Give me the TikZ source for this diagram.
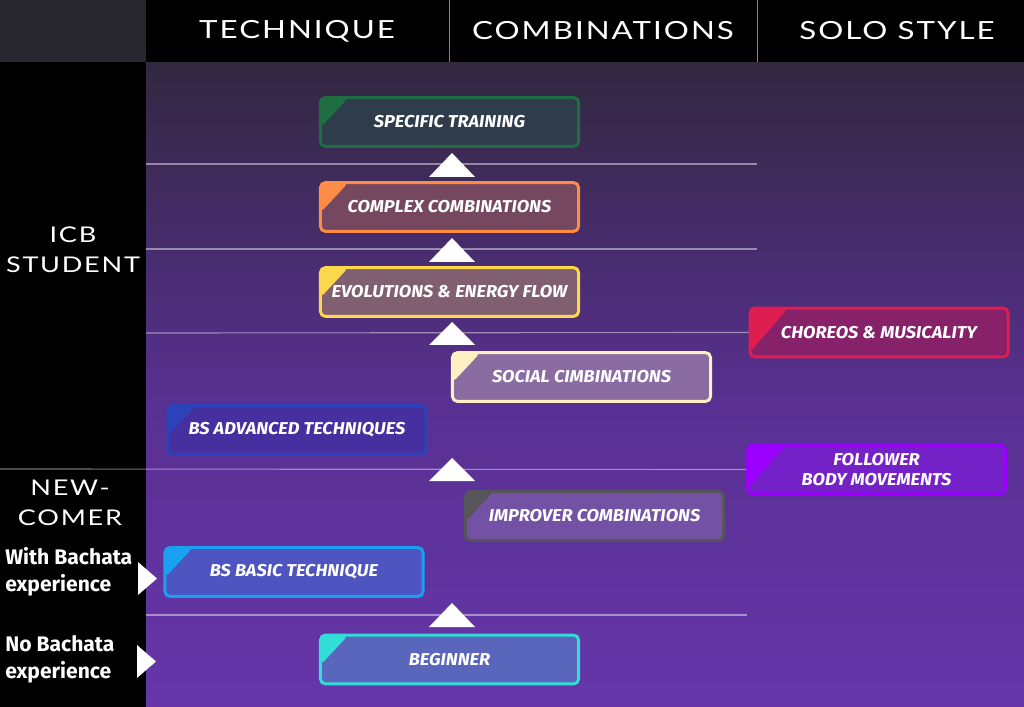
\documentclass[tikz,border=0pt]{standalone}
\usepackage{fontspec}
\setmainfont{Fira Sans}
\newfontfamily\headfont[FakeStretch=1.25,LetterSpace=8]{Lato}
\newfontfamily\stagefont[FakeStretch=1.06]{Fira Sans}

\definecolor{bgtop}{RGB}{50,40,64}
\definecolor{bgmid}{RGB}{88,48,145}
\definecolor{bgbot}{RGB}{102,54,170}
\definecolor{corner}{RGB}{40,38,46}
\definecolor{specB}{RGB}{30,110,65}
\definecolor{specF}{RGB}{46,60,75}
\definecolor{complexB}{RGB}{255,140,70}
\definecolor{complexF}{RGB}{118,72,96}
\definecolor{evolB}{RGB}{250,215,75}
\definecolor{evolF}{RGB}{128,96,112}
\definecolor{socialB}{RGB}{255,240,195}
\definecolor{socialF}{RGB}{138,108,163}
\definecolor{advB}{RGB}{45,65,185}
\definecolor{advF}{RGB}{70,48,160}
\definecolor{improverB}{RGB}{85,85,90}
\definecolor{improverF}{RGB}{115,82,165}
\definecolor{basicB}{RGB}{25,160,240}
\definecolor{basicF}{RGB}{78,85,192}
\definecolor{beginnerB}{RGB}{50,220,215}
\definecolor{beginnerF}{RGB}{90,102,188}
\definecolor{choreosB}{RGB}{222,30,80}
\definecolor{choreosF}{RGB}{135,33,106}
\definecolor{followerB}{RGB}{155,0,255}
\definecolor{followerF}{RGB}{117,33,200}

\tikzset{
  stage/.style n args={4}{draw=#1,fill=#2,line width=2.1pt,rounded corners=3.5pt,
    minimum width=6.45cm,minimum height=1.22cm,inner sep=0pt,text=white,align=center,
    font=\stagefont\fontsize{12.2}{14.4}\selectfont\bfseries\itshape,
    path picture={\fill[#1](path picture bounding box.north west)--++(#3,0)--++(-#3,#4)--cycle;}},
  sepline/.style={white,opacity=0.45,line width=0.8pt},
  headtext/.style={text=white,font=\headfont\fontsize{17.8}{22}\selectfont},
  sidetext/.style={text=white,align=center,font=\headfont\fontsize{15.4}{21.5}\selectfont},
  leveltext/.style={text=white,align=left,anchor=west,inner sep=0pt,font=\fontsize{15}{19.2}\selectfont\bfseries},
}

\begin{document}
\begin{tikzpicture}[x=0.025cm,y=-0.025cm]
        \useasboundingbox(0,0)rectangle(1024,707);
        % background
        \fill[black](0,0)rectangle(1024,707);
        \fill[corner](0,0)rectangle(146,62);
        \shade[top color=bgtop,bottom color=bgmid](146,62)rectangle(1024,400);
        \shade[top color=bgmid,bottom color=bgbot](146,399)rectangle(1024,707);
        \fill[black](146,0)rectangle(1024,62);
        \draw[gray,line width=0.7pt](449,0)--(449,62);
        \draw[gray,line width=0.7pt](757,0)--(757,62);

        % headers
        \node[headtext](technique)at(297,31){TECHNIQUE};
        \node[headtext](combinations)at(603,31){COMBINATIONS};
        \node[headtext](solo)at(897,31){SOLO STYLE};
        \node[sidetext](icb)at(73,250){ICB\\STUDENT};
        \node[sidetext](newcomer)at(70,503){NEW-\\COMER};
        \node[leveltext](withexp)at(5,572){With Bachata\\experience};
        \node[leveltext](noexp)at(5,659){No Bachata\\experience};

        % stages
        \node[stage={specB}{specF}{28}{30}](spec)at(449.5,122){SPECIFIC TRAINING};
        \node[stage={complexB}{complexF}{28}{30}](complex)at(449.5,207){COMPLEX COMBINATIONS};
        \node[stage={evolB}{evolF}{28}{30}](evol)at(449.5,292){EVOLUTIONS \& ENERGY FLOW};
        \node[stage={socialB}{socialF}{28}{30}](social)at(581.5,377){SOCIAL CIMBINATIONS};
        \node[stage={advB}{advF}{28}{30}](adv)at(297,430){BS ADVANCED TECHNIQUES};
        \node[stage={improverB}{improverF}{28}{30}](improver)at(594.5,516){IMPROVER COMBINATIONS};
        \node[stage={basicB}{basicF}{28}{30}](basic)at(294,572){BS BASIC TECHNIQUE};
        \node[stage={beginnerB}{beginnerF}{28}{30}](beginner)at(449.5,659.5){BEGINNER};
        \node[stage={choreosB}{choreosF}{38}{44}](choreos)at(879,332.5){CHOREOS \& MUSICALITY};
        \node[stage={followerB}{followerF}{38}{44}](follower)at(876.5,469.5){FOLLOWER\\BODY MOVEMENTS};

        % level lines
        \draw[sepline](146,164)--(757,164);
        \draw[sepline](146,249)--(757,249);
        \draw[sepline](146,333)--(choreos.west);
        \draw[sepline](0,469)--(follower.west);
        \draw[sepline](146,615)--(747,615);

        % steps up
        \fill[white](452,153)--(475,177)--(429,177)--cycle;
        \fill[white](452,238)--(475,262)--(429,262)--cycle;
        \fill[white](452,322)--(475,345)--(429,345)--cycle;
        \fill[white](452,458)--(475,481)--(429,481)--cycle;
        \fill[white](452,603)--(475,627)--(429,627)--cycle;

        % entry points
        \fill[white](138,562)--(157,578.5)--(138,595)--cycle;
        \fill[white](137,645)--(156,661.5)--(137,678)--cycle;
    \end{tikzpicture}
\end{document}
